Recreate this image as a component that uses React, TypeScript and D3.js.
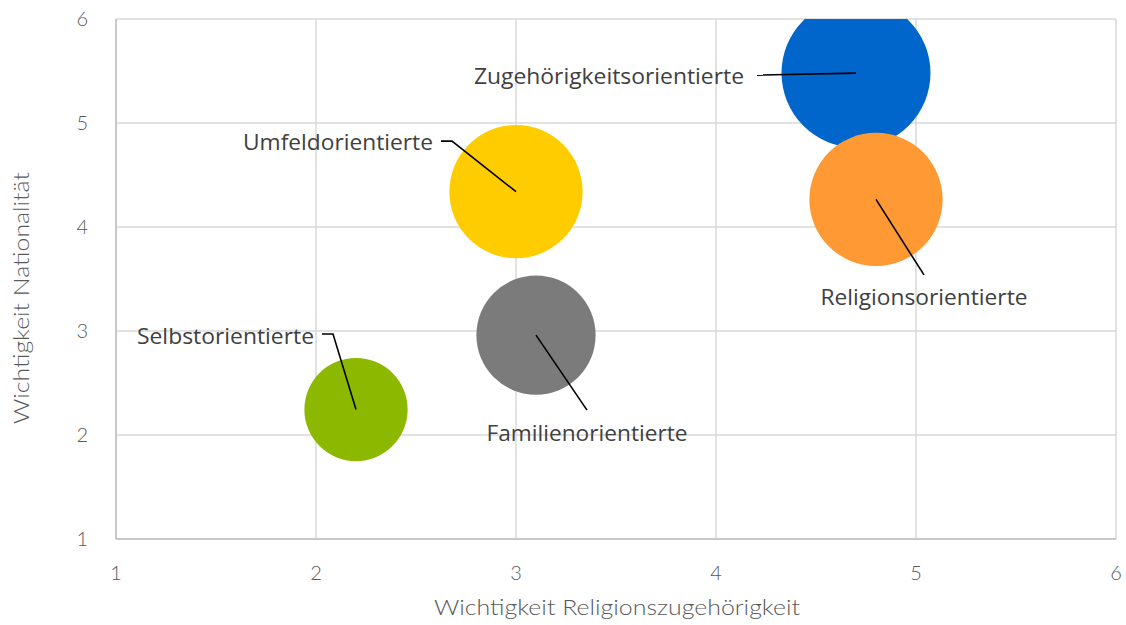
import React from "react";
import * as d3 from "d3";

// ---- data ----
const categories = [
  "Zugehörigkeitsorientierte",
  "Religionsorientierte",
  "Umfeldorientierte",
  "Familienorientierte",
  "Selbstorientierte",
];
const religionValues = [4.7, 4.8, 3.0, 3.1, 2.2];
const nationValues = [5.48, 4.265, 4.34, 2.96, 2.245];
const sizeValues = [25, 20, 20, 16, 12];
const xTicks = [1, 2, 3, 4, 5, 6];
const yTicks = [1, 2, 3, 4, 5, 6];
const xTitle = "Wichtigkeit Religionszugehörigkeit";
const yTitle = "Wichtigkeit Nationalität";

// ---- styling / layout ----
const colors = ["#0066CC", "#FF9933", "#FFCC00", "#7B7B7B", "#8CB800"];
// leader line bend points (offsets from bubble centre) and label placement
type LabelLayout = {
  pts: [number, number][];
  lx: number;
  ly: number;
  anchor: "start" | "middle" | "end";
  width: number;
};
const labelLayout: LabelLayout[] = [
  { pts: [[-99, 2]], lx: -112, ly: 3, anchor: "end", width: 270 },
  { pts: [[48, 75.5]], lx: 48, ly: 97.5, anchor: "middle", width: 207 },
  { pts: [[-64, -50.5], [-75, -50.5]], lx: -83, ly: -49.5, anchor: "end", width: 190 },
  { pts: [[51, 75]], lx: 51, ly: 98, anchor: "middle", width: 201 },
  { pts: [[-23, -75.5], [-34, -75.5]], lx: -42, ly: -73.5, anchor: "end", width: 177 },
];

const W = 1126;
const H = 625;
const plot = { left: 116, right: 1116, top: 19, bottom: 539 };

export default function App() {
  const x = d3.scaleLinear().domain([1, 6]).range([plot.left, plot.right]);
  const y = d3.scaleLinear().domain([1, 6]).range([plot.bottom, plot.top]);
  const r = d3.scaleSqrt().domain([0, 25]).range([0, 74.5]);

  const axisFont = "'Lato', 'Open Sans', sans-serif";
  const labelFont = "'Open Sans', 'Noto Sans', sans-serif";

  return (
    <svg
      width={W}
      height={H}
      style={{ position: "absolute", left: 0, top: 0, background: "#fff" }}
    >
      <defs>
        <clipPath id="plotClip">
          <rect
            x={plot.left}
            y={plot.top}
            width={plot.right - plot.left}
            height={plot.bottom - plot.top}
          />
        </clipPath>
      </defs>
      <rect x={0} y={0} width={W} height={H} fill="#fff" />

      {/* gridlines */}
      {yTicks.map((t) => (
        <line
          key={"gy" + t}
          x1={plot.left}
          x2={plot.right}
          y1={y(t)}
          y2={y(t)}
          stroke="#D9D9D9"
          strokeWidth={1.5}
        />
      ))}
      {xTicks.map((t) => (
        <line
          key={"gx" + t}
          x1={x(t)}
          x2={x(t)}
          y1={plot.top}
          y2={plot.bottom}
          stroke="#D9D9D9"
          strokeWidth={1.5}
        />
      ))}
      {/* axis lines */}
      <line x1={plot.left} x2={plot.left} y1={plot.top} y2={plot.bottom} stroke="#BFBFBF" strokeWidth={1.5} />
      <line x1={plot.left} x2={plot.right} y1={plot.bottom} y2={plot.bottom} stroke="#BFBFBF" strokeWidth={1.5} />

      {/* tick labels */}
      {yTicks.map((t) => (
        <text
          key={"ty" + t}
          x={88}
          y={y(t)}
          dy="0.35em"
          textAnchor="end"
          fontFamily={axisFont}
          fontWeight={300}
          fontSize={20}
          fill="#595959"
        >
          {t}
        </text>
      ))}
      {xTicks.map((t) => (
        <text
          key={"tx" + t}
          x={x(t)}
          y={573}
          dy="0.35em"
          textAnchor="middle"
          fontFamily={axisFont}
          fontWeight={300}
          fontSize={20}
          fill="#595959"
        >
          {t}
        </text>
      ))}

      {/* axis titles */}
      <text
        x={(plot.left + plot.right) / 2 + 1}
        y={608}
        dy="0.35em"
        textAnchor="middle"
        fontFamily={axisFont}
        fontWeight={300}
        fontSize={21}
        fill="#595959"
        textLength={366}
        lengthAdjust="spacingAndGlyphs"
      >
        {xTitle}
      </text>
      <text
        transform={`translate(22,298) rotate(-90)`}
        dy="0.35em"
        textAnchor="middle"
        fontFamily={axisFont}
        fontWeight={300}
        fontSize={21}
        fill="#595959"
        textLength={252}
        lengthAdjust="spacingAndGlyphs"
      >
        {yTitle}
      </text>

      {/* bubbles */}
      <g clipPath="url(#plotClip)">
        {categories.map((c, i) => (
          <circle
            key={c}
            cx={x(religionValues[i])}
            cy={y(nationValues[i])}
            r={r(sizeValues[i])}
            fill={colors[i]}
          />
        ))}
      </g>

      {/* leader lines and labels */}
      {categories.map((c, i) => {
        const cx = x(religionValues[i]);
        const cy = y(nationValues[i]);
        const L = labelLayout[i];
        const pts: [number, number][] = [[cx, cy], ...L.pts.map(([dx, dy]) => [cx + dx, cy + dy] as [number, number])];
        const line = d3.line()(pts) || "";
        return (
          <g key={"lab" + c}>
            <path d={line} fill="none" stroke="#000" strokeWidth={1.6} />
            <text
              x={cx + L.lx}
              y={cy + L.ly}
              dy="0.35em"
              textAnchor={L.anchor}
              fontFamily={labelFont}
              fontSize={22}
              fill="#404040"
              textLength={L.width}
              lengthAdjust="spacingAndGlyphs"
            >
              {c}
            </text>
          </g>
        );
      })}
    </svg>
  );
}
